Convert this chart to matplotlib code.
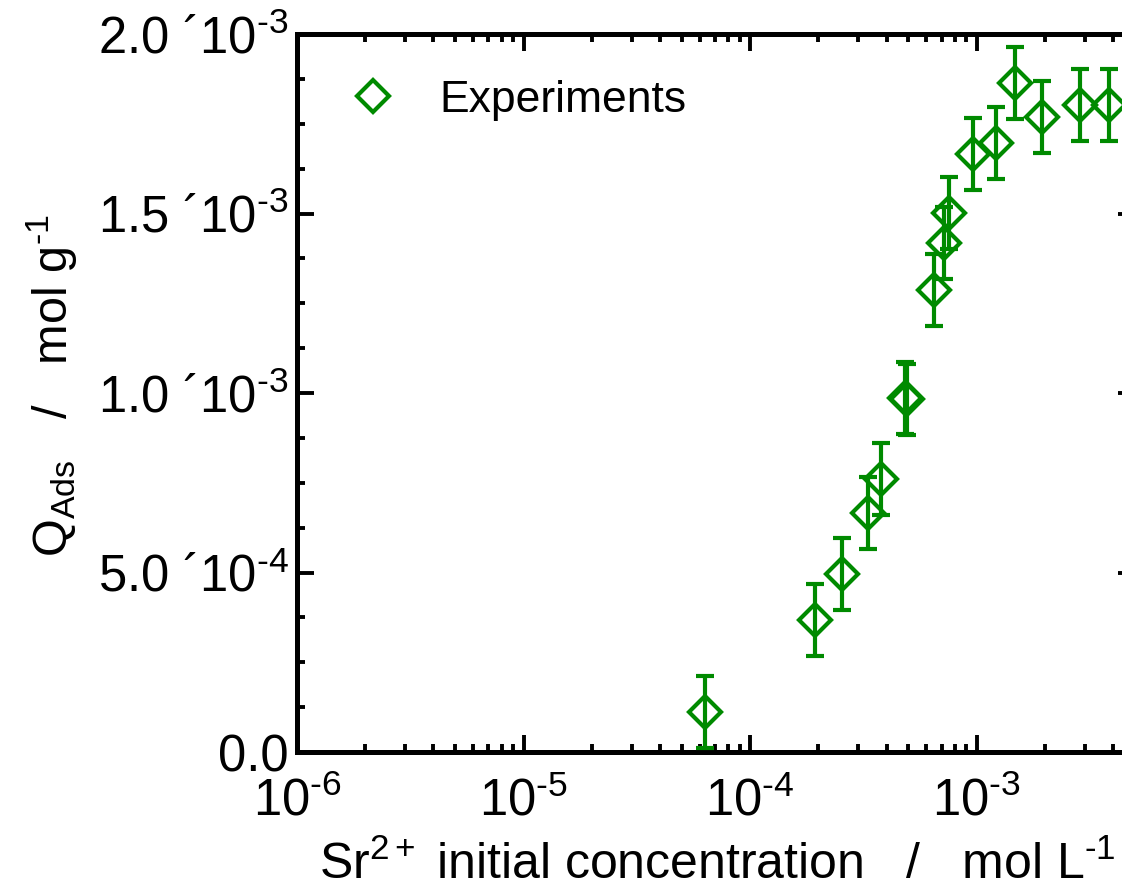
import matplotlib
matplotlib.use('agg')

import matplotlib.pyplot as plt
import matplotlib.ticker as ticker
import numpy as np

plt.rcParams['font.family'] = ['Liberation Sans', 'DejaVu Sans']
plt.rcParams['mathtext.fontset'] = 'custom'
plt.rcParams['mathtext.rm'] = 'Liberation Sans'
plt.rcParams['mathtext.it'] = 'Liberation Sans:italic'
plt.rcParams['mathtext.bf'] = 'Liberation Sans:bold'
plt.rcParams['mathtext.sf'] = 'Liberation Sans'
plt.rcParams['mathtext.default'] = 'rm'


# data
conc = [6.3e-5, 1.93e-4, 2.54e-4, 3.30e-4, 3.77e-4, 4.85e-4, 4.95e-4, 6.46e-4,
        7.21e-4, 7.52e-4, 9.6e-4, 1.22e-3, 1.47e-3, 1.95e-3, 2.87e-3, 3.82e-3]
q_ads = [1.11e-4, 3.68e-4, 4.96e-4, 6.66e-4, 7.60e-4, 9.87e-4, 9.82e-4, 1.287e-3,
         1.418e-3, 1.501e-3, 1.666e-3, 1.696e-3, 1.864e-3, 1.769e-3, 1.802e-3, 1.802e-3]
q_err = [1.0e-4] * len(q_ads)

green = '#008A00'


fig = plt.figure(figsize=(11.22, 8.91), dpi=100)
ax = fig.add_axes([0.2647, 0.156, 0.7469, 0.8058])

ax.errorbar(conc, q_ads, yerr=q_err, fmt='none', ecolor=green,
            elinewidth=3, capsize=6.5, capthick=3, zorder=3)
ax.plot(conc, q_ads, 'D', ms=16, mfc='none', mec=green, mew=3,
        label='Experiments', zorder=4)

ax.set_xscale('log')
ax.set_xlim(1e-6, 5e-3)
ax.set_ylim(0, 2.0e-3)

ax.xaxis.set_major_locator(ticker.LogLocator(base=10, numticks=10))
ax.xaxis.set_minor_locator(ticker.LogLocator(base=10, subs=np.arange(2, 10), numticks=50))
ax.xaxis.set_minor_formatter(ticker.NullFormatter())

def xfmt(v, pos):
    e = int(round(np.log10(v)))
    return r'10$^{\text{%d}}$' % e

def yfmt(v, pos):
    if v <= 1e-12:
        return '0.0'
    e = int(np.floor(np.log10(v) + 1e-9))
    m = v / 10**e
    return '%.1f \u00b410$^{\\text{%d}}$' % (m, e)

ax.xaxis.set_major_formatter(ticker.FuncFormatter(xfmt))
ax.yaxis.set_major_locator(ticker.MultipleLocator(0.5e-3))
ax.yaxis.set_minor_locator(ticker.MultipleLocator(0.125e-3))
ax.yaxis.set_major_formatter(ticker.FuncFormatter(yfmt))

ax.tick_params(which='both', direction='in', top=True, right=True, width=2.8)
ax.tick_params(which='major', length=12.5, labelsize=36.5)
ax.tick_params(which='minor', length=6)
ax.tick_params(axis='x', which='major', pad=18)
ax.tick_params(axis='y', which='major', pad=6)

for s in ax.spines.values():
    s.set_linewidth(3.6)

ax.set_xlabel(r'Sr$^{2+}$ initial concentration   /   mol L$^{\text{-1}}$', fontsize=36)
ax.set_ylabel(r'Q$_{Ads}$   /   mol g$^{\text{-1}}$', fontsize=35)
ax.xaxis.set_label_coords(0.502, -0.124)
ax.yaxis.set_label_coords(-0.259, 0.51)

ax.legend(loc='center left', bbox_to_anchor=(0.0644, 0.908), frameon=False,
          fontsize=32, handlelength=1.0, handletextpad=1.0,
          borderpad=0, borderaxespad=0)

plt.savefig('out.png', dpi=100)
